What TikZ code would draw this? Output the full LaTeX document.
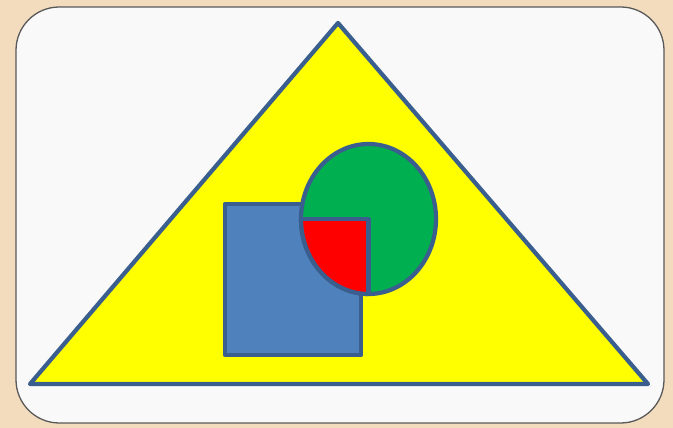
\documentclass[tikz,border=0pt]{standalone}
\usepackage{xcolor}
\usepackage{tikz}
\definecolor{paper}{HTML}{F2DCBD}
\definecolor{card}{HTML}{F9F9F9}
\definecolor{edgeblue}{HTML}{3A5F8E}
\definecolor{boxblue}{HTML}{4F81BD}
\definecolor{leafgreen}{HTML}{00B050}
\definecolor{sunyellow}{HTML}{FFFF00}
\definecolor{hotred}{HTML}{FF0000}
\tikzset{
  shapeline/.style={draw=edgeblue,line width=3.6pt,line join=round},
}

\begin{document}
\begin{tikzpicture}[x=0.03cm,y=0.03cm]
  % Background and card
  \fill[paper] (0,0) rectangle (673,428);
  \useasboundingbox (0,0) rectangle (673,428);
  \draw[fill=card,draw=black!65,line width=1.1pt,rounded corners=1.3cm]
    (16,5) rectangle (664,421);
  % Triangle
  \draw[shapeline,fill=sunyellow] (30,44) -- (648,44) -- (338,405) -- cycle;
  % Square
  \draw[shapeline,fill=boxblue] (225,73) rectangle (361,224);
  % Ellipse and red quarter
  \draw[shapeline,fill=leafgreen] (368.5,209) ellipse[x radius=67.5,y radius=75];
  \fill[hotred] (368.5,209) -- (301,209)
    arc[start angle=180,end angle=270,x radius=67.5,y radius=75] -- cycle;
  \draw[shapeline] (301,209) -- (368.5,209) -- (368.5,134);
  \draw[shapeline] (301,209)
    arc[start angle=180,end angle=270,x radius=67.5,y radius=75];
\end{tikzpicture}
\end{document}
